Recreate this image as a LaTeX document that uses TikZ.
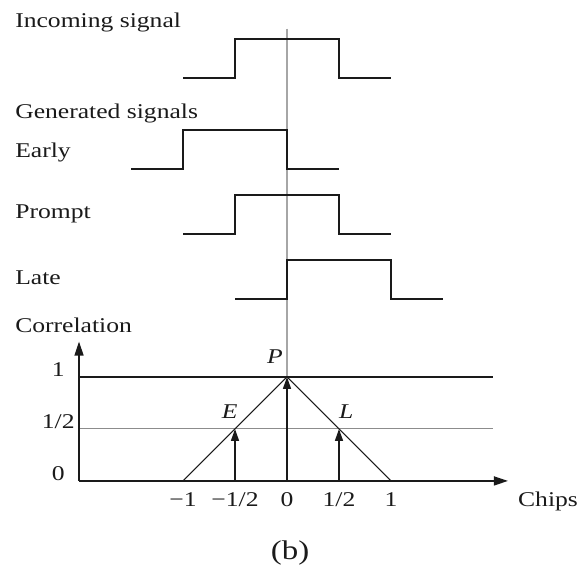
\documentclass[tikz,border=0pt]{standalone}
\usepackage{fontspec}
\setmainfont{Liberation Serif}[FakeStretch=1.22]
\usepackage{xcolor}
\usepackage{tikz}
\usetikzlibrary{arrows.meta}
\definecolor{ink}{HTML}{1A1A1A}
\definecolor{guide}{HTML}{A6A6A6}
\definecolor{halfline}{HTML}{8C8C8C}

\tikzset{
  txt/.style={inner sep=0pt,text=ink,font=\fontsize{21bp}{25bp}\selectfont},
  lbl/.style={txt,anchor=base west},
  tick/.style={txt,anchor=base},
  wave/.style={draw=ink,line width=1.3bp},
  axis/.style={draw=ink,line width=1.4bp,-{Triangle[length=14bp,width=9bp]}},
  tap/.style={draw=ink,line width=1.6bp,-{Triangle[length=12bp,width=8bp]}}
}

\begin{document}
\begin{tikzpicture}[x=104bp,y=104bp]
  \useasboundingbox (-2.76,-0.865) rectangle (2.885,4.625);

  \node[lbl] (incoming) at (-2.615,4.365) {Incoming signal};
  \node[lbl] (generated) at (-2.615,3.49) {Generated signals};
  \node[lbl] (early) at (-2.615,3.115) {Early};
  \node[lbl] (prompt) at (-2.615,2.52) {Prompt};
  \node[lbl] (late) at (-2.615,1.885) {Late};
  \node[lbl] (correlation) at (-2.615,1.43) {Correlation};

  \draw[guide,line width=1.2bp] (0,4.35) -- (0,1);
  \foreach \s/\b in {0/3.875,-0.5/3,0/2.375,0.5/1.75}
    \draw[wave] (\s-1,\b) -- ++(0.5,0) -- ++(0,0.375) -- ++(1,0) -- ++(0,-0.375) -- ++(0.5,0);

  \coordinate (origin) at (-2,0);
  \coordinate (E) at (-0.5,0.5);
  \coordinate (P) at (0,1);
  \coordinate (L) at (0.5,0.5);

  \draw[halfline,line width=0.9bp] (-2,0.5) -- (1.98,0.5);
  \draw[ink,line width=1.3bp] (-2,1) -- (1.98,1);
  \draw[ink,line width=1bp] (-1,0) -- (P) -- (1,0);
  \draw[axis] (origin) -- (-2,1.34);
  \draw[axis] (origin) -- (2.125,0);
  \draw[tap] (-0.5,0) -- (E);
  \draw[tap] (0,0) -- (P);
  \draw[tap] (0.5,0) -- (L);

  \node[txt] (labP) at (-0.115,1.2) {\textit{P}};
  \node[txt] (labE) at (-0.55,0.67) {\textit{E}};
  \node[txt] (labL) at (0.57,0.67) {\textit{L}};

  \node[tick] (y0) at (-2.2,0) {0};
  \node[tick] (yhalf) at (-2.2,0.5) {1/2};
  \node[tick] (y1) at (-2.2,1) {1};
  \foreach \x/\t in {-1/{−1},-0.5/{−1/2},0/{0},0.5/{1/2},1/{1}}
    \node[tick] at (\x,-0.25) {\t};
  \node[tick] (chips) at (2.51,-0.25) {Chips};
  \node[tick,font=\fontsize{27bp}{30bp}\selectfont] (caption) at (0.03,-0.76) {(b)};
\end{tikzpicture}
\end{document}
